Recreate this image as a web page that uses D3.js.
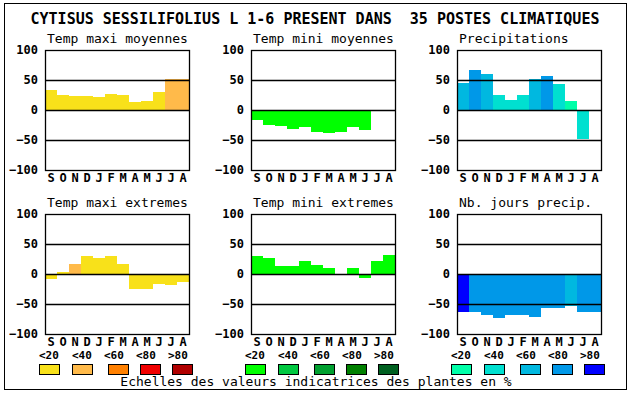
<!DOCTYPE html>
<html><head><meta charset="utf-8">
<script src="https://cdn.jsdelivr.net/npm/d3@7"></script>
<style>
html,body{margin:0;padding:0;background:#fff;}
svg{display:block;}
text{font-family:"DejaVu Sans Mono",monospace;fill:#000;}
</style></head>
<body>
<svg id="c" width="630" height="394"></svg>
<script>
const title = "CYTISUS SESSILIFOLIUS L 1-6 PRESENT DANS  35 POSTES CLIMATIQUES";
const caption = "Echelles des valeurs indicatrices des plantes en %";
const months = ["S","O","N","D","J","F","M","A","M","J","J","A"];
const yTicks = [100, 50, 0, -50, -100];
const gridValues = [50, 0, -50];
const legendLabels = ["<20","<40","<60","<80",">80"];

const panelTitles = ["Temp maxi moyennes","Temp mini moyennes","Precipitations",
                     "Temp maxi extremes","Temp mini extremes","Nb. jours precip."];

const tmaxColors = ["#f8e11a","#ffba4a","#ff8000","#f00000","#b00000"];
const tminColors = ["#00ff00","#00c840","#00a030","#008000","#006020"];
const precColors = ["#00ffa8","#00e0d0","#00b8e0","#0098e8","#0000ff"];

const tmaxMoy    = [33,25,23,23,22,27,25,14,15,30,52,52];
const tmaxMoyCls = [0,0,0,0,0,0,0,0,0,0,1,1];
const tminMoy    = [-16,-25,-26,-31,-28,-36,-38,-36,-28,-33,0,-2];
const tminMoyCls = [0,0,0,0,0,0,0,0,0,0,0,0];
const precip     = [45,67,60,25,17,25,52,57,43,15,-48,0];
const precipCls  = [2,3,2,1,1,1,2,3,1,0,1,1];
const tmaxExt    = [-8,4,17,30,27,30,17,-25,-25,-16,-18,-13];
const tmaxExtCls = [0,0,1,0,0,0,0,0,0,0,0,0];
const tminExt    = [30,27,14,14,22,15,10,0,10,-6,22,32];
const tminExtCls = [0,0,0,0,0,0,0,0,0,0,0,0];
const nbJours    = [-64,-64,-68,-73,-68,-68,-71,-57,-57,-53,-64,-63];
const nbJoursCls = [4,3,3,3,3,3,3,3,3,2,3,3];

const panels = [
  {values:tmaxMoy, cls:tmaxMoyCls, pal:tmaxColors},
  {values:tminMoy, cls:tminMoyCls, pal:tminColors},
  {values:precip,  cls:precipCls,  pal:precColors},
  {values:tmaxExt, cls:tmaxExtCls, pal:tmaxColors},
  {values:tminExt, cls:tminExtCls, pal:tminColors},
  {values:nbJours, cls:nbJoursCls, pal:precColors}
];
const palettes = [tmaxColors, tminColors, precColors];

const svg = d3.select("#c");
// outer frame
svg.append("rect").attr("x",4.5).attr("y",3.5).attr("width",622).attr("height",386)
  .attr("fill","none").attr("stroke","#000").attr("stroke-width",1);

svg.append("text").attr("x",315).attr("y",24).attr("text-anchor","middle")
  .attr("font-size",15).attr("font-weight","bold").style("white-space","pre")
  .attr("xml:space","preserve").text(title);

const lefts = [45,251,457];
const tops = [50,214];
const W = 144, H = 120;

panels.forEach((p,i)=>{
  const x0 = lefts[i%3], y0 = tops[Math.floor(i/3)];
  const g = svg.append("g").attr("transform",`translate(${x0},${y0})`);
  const x = d3.scaleBand().domain(d3.range(12)).range([0,W]).padding(0);
  const y = d3.scaleLinear().domain([-100,100]).range([H,0]);

  g.append("text").attr("x",2).attr("y",-7).attr("font-size",13).text(panelTitles[i]);

  g.selectAll("rect.bar").data(p.values).join("rect").attr("class","bar")
    .attr("x",(d,j)=>x(j)).attr("width",x.bandwidth())
    .attr("y",d=>y(Math.max(0,d))).attr("height",d=>Math.abs(y(d)-y(0)))
    .attr("fill",(d,j)=>p.pal[p.cls[j]]).attr("shape-rendering","crispEdges");

  g.selectAll("line.grid").data(gridValues).join("line").attr("class","grid")
    .attr("x1",0).attr("x2",W).attr("y1",d=>Math.round(y(d))+0.5).attr("y2",d=>Math.round(y(d))+0.5)
    .attr("stroke","#000").attr("stroke-width",1.3);

  g.append("rect").attr("x",0.5).attr("y",0.5).attr("width",W).attr("height",H)
    .attr("fill","none").attr("stroke","#000").attr("stroke-width",1.3);

  const ya = d3.axisLeft(y).tickValues(yTicks).tickSize(0).tickPadding(7);
  const yg = g.append("g").call(ya);
  yg.select(".domain").remove();
  yg.selectAll("text").attr("font-size",12).attr("font-weight","bold")
    .style("font-family","'DejaVu Sans Mono',monospace").attr("fill","#000");

  const xa = d3.axisBottom(x).tickFormat(j=>months[j]).tickSize(0).tickPadding(3);
  const xg = g.append("g").attr("transform",`translate(0,${H})`).call(xa);
  xg.select(".domain").remove();
  xg.selectAll("text").attr("font-size",12).attr("font-weight","bold")
    .style("font-family","'DejaVu Sans Mono',monospace").attr("fill","#000");
});

// legend
const labOff = [0,33,65,97,129];
const boxOff = [0,33,69,101,133];
palettes.forEach((pal,k)=>{
  const gx = lefts[k]-6;
  legendLabels.forEach((l,j)=>{
    svg.append("text").attr("x",gx+labOff[j]).attr("y",359).attr("font-size",11)
      .attr("font-weight","bold").text(l);
    svg.append("rect").attr("x",gx+boxOff[j]+0.5).attr("y",364.5).attr("width",20).attr("height",10)
      .attr("fill",pal[j]).attr("stroke","#000").attr("stroke-width",1);
  });
});

svg.append("text").attr("x",316).attr("y",386).attr("text-anchor","middle")
  .attr("font-size",13).text(caption);
</script>
</body></html>
